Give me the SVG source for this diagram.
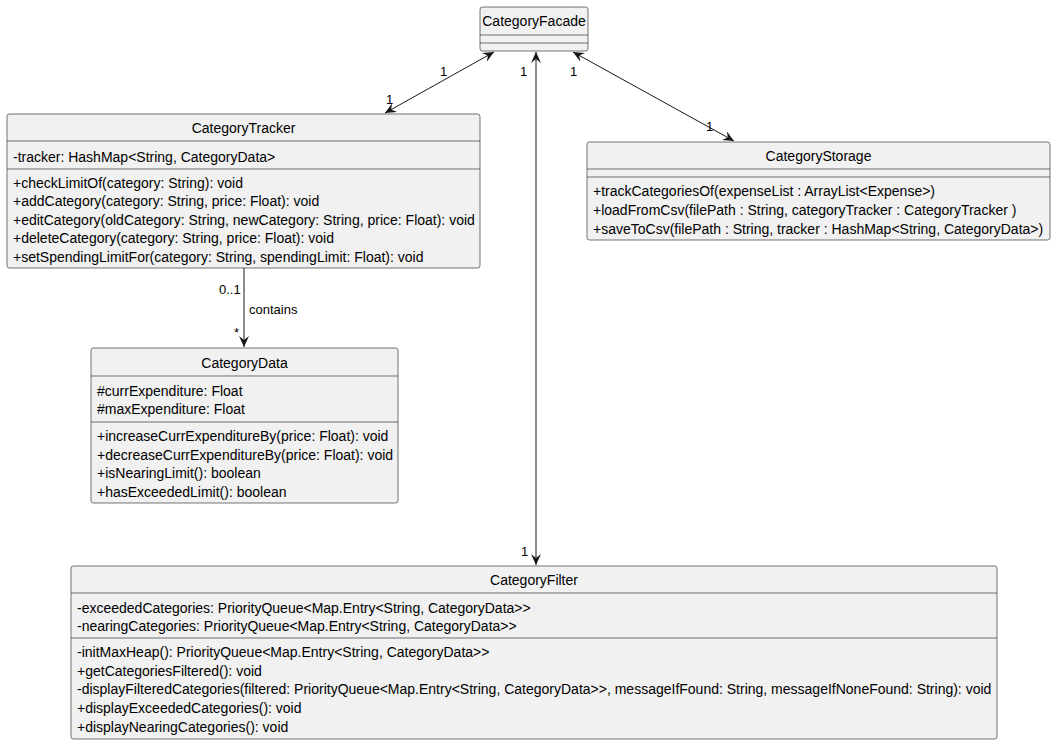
<svg xmlns="http://www.w3.org/2000/svg" width="1056" height="745" viewBox="0 0 1056 745">
<style>
.box{fill:#F1F1F1;stroke:#181818;stroke-width:0.6}
.div{stroke:#181818;stroke-width:0.6}
text{font-family:"Liberation Sans",Arial,sans-serif;font-size:14px;fill:#000}
.t{font-size:14px;text-anchor:middle}
.lbl{font-size:13px}
.edge{stroke:#181818;stroke-width:1;fill:none}
</style>
<defs>
<marker id="arr" viewBox="0 0 12 10" refX="11" refY="5" markerWidth="12" markerHeight="10" markerUnits="userSpaceOnUse" orient="auto-start-reverse">
<path d="M0,0 L11,5 L0,10 L4,5 Z" fill="#181818"/>
</marker>
</defs>
<rect width="1056" height="745" fill="#fff"/>
<g id="connectors">
<line class="edge" x1="494" y1="52" x2="385" y2="113" marker-start="url(#arr)" marker-end="url(#arr)"/>
<text class="lbl" x="440" y="76">1</text>
<text class="lbl" x="386" y="104">1</text>
<line class="edge" x1="536" y1="52" x2="536" y2="565" marker-start="url(#arr)" marker-end="url(#arr)"/>
<text class="lbl" x="520" y="76">1</text>
<text class="lbl" x="521" y="556">1</text>
<line class="edge" x1="573" y1="52" x2="734" y2="141" marker-start="url(#arr)" marker-end="url(#arr)"/>
<text class="lbl" x="570" y="76">1</text>
<text class="lbl" x="706" y="131">1</text>
<line class="edge" x1="244" y1="268" x2="244" y2="347" marker-end="url(#arr)"/>
<text class="lbl" x="219" y="294">0..1</text>
<text class="lbl" x="249" y="314">contains</text>
<text class="lbl" x="234" y="337">*</text>
</g>
<g id="CategoryFacade">
<rect class="box" x="480" y="7" width="108" height="44" rx="2.5"/>
<text class="t" x="534" y="26">CategoryFacade</text>
<line class="div" x1="480" y1="35" x2="588" y2="35"/>
<line class="div" x1="480" y1="43" x2="588" y2="43"/>
</g>
<g id="CategoryTracker">
<rect class="box" x="7" y="114" width="473" height="154" rx="2.5"/>
<text class="t" x="243.5" y="133">CategoryTracker</text>
<line class="div" x1="7" y1="141" x2="480" y2="141"/>
<text x="13" y="162">-tracker: HashMap&lt;String, CategoryData&gt;</text>
<line class="div" x1="7" y1="169" x2="480" y2="169"/>
<text x="13" y="188">+checkLimitOf(category: String): void</text>
<text x="13" y="206">+addCategory(category: String, price: Float): void</text>
<text x="13" y="225">+editCategory(oldCategory: String, newCategory: String, price: Float): void</text>
<text x="13" y="243">+deleteCategory(category: String, price: Float): void</text>
<text x="13" y="262">+setSpendingLimitFor(category: String, spendingLimit: Float): void</text>
</g>
<g id="CategoryStorage">
<rect class="box" x="587" y="142" width="463" height="98" rx="2.5"/>
<text class="t" x="818.5" y="161">CategoryStorage</text>
<line class="div" x1="587" y1="169" x2="1050" y2="169"/>
<line class="div" x1="587" y1="177" x2="1050" y2="177"/>
<text x="593" y="196">+trackCategoriesOf(expenseList : ArrayList&lt;Expense&gt;)</text>
<text x="593" y="215">+loadFromCsv(filePath : String, categoryTracker : CategoryTracker )</text>
<text x="593" y="234">+saveToCsv(filePath : String, tracker : HashMap&lt;String, CategoryData&gt;)</text>
</g>
<g id="CategoryData">
<rect class="box" x="91" y="348" width="307" height="155" rx="2.5"/>
<text class="t" x="244.5" y="368">CategoryData</text>
<line class="div" x1="91" y1="376" x2="398" y2="376"/>
<text x="97" y="396">#currExpenditure: Float</text>
<text x="97" y="414">#maxExpenditure: Float</text>
<line class="div" x1="91" y1="422" x2="398" y2="422"/>
<text x="97" y="441">+increaseCurrExpenditureBy(price: Float): void</text>
<text x="97" y="460">+decreaseCurrExpenditureBy(price: Float): void</text>
<text x="97" y="478">+isNearingLimit(): boolean</text>
<text x="97" y="497">+hasExceededLimit(): boolean</text>
</g>
<g id="CategoryFilter">
<rect class="box" x="71" y="566" width="926" height="173" rx="2.5"/>
<text class="t" x="534" y="585">CategoryFilter</text>
<line class="div" x1="71" y1="593" x2="997" y2="593"/>
<text x="77" y="613">-exceededCategories: PriorityQueue&lt;Map.Entry&lt;String, CategoryData&gt;&gt;</text>
<text x="77" y="631">-nearingCategories: PriorityQueue&lt;Map.Entry&lt;String, CategoryData&gt;&gt;</text>
<line class="div" x1="71" y1="638" x2="997" y2="638"/>
<text x="77" y="657">-initMaxHeap(): PriorityQueue&lt;Map.Entry&lt;String, CategoryData&gt;&gt;</text>
<text x="77" y="676">+getCategoriesFiltered(): void</text>
<text x="77" y="694">-displayFilteredCategories(filtered: PriorityQueue&lt;Map.Entry&lt;String, CategoryData&gt;&gt;, messageIfFound: String, messageIfNoneFound: String): void</text>
<text x="77" y="713">+displayExceededCategories(): void</text>
<text x="77" y="732">+displayNearingCategories(): void</text>
</g>
</svg>
